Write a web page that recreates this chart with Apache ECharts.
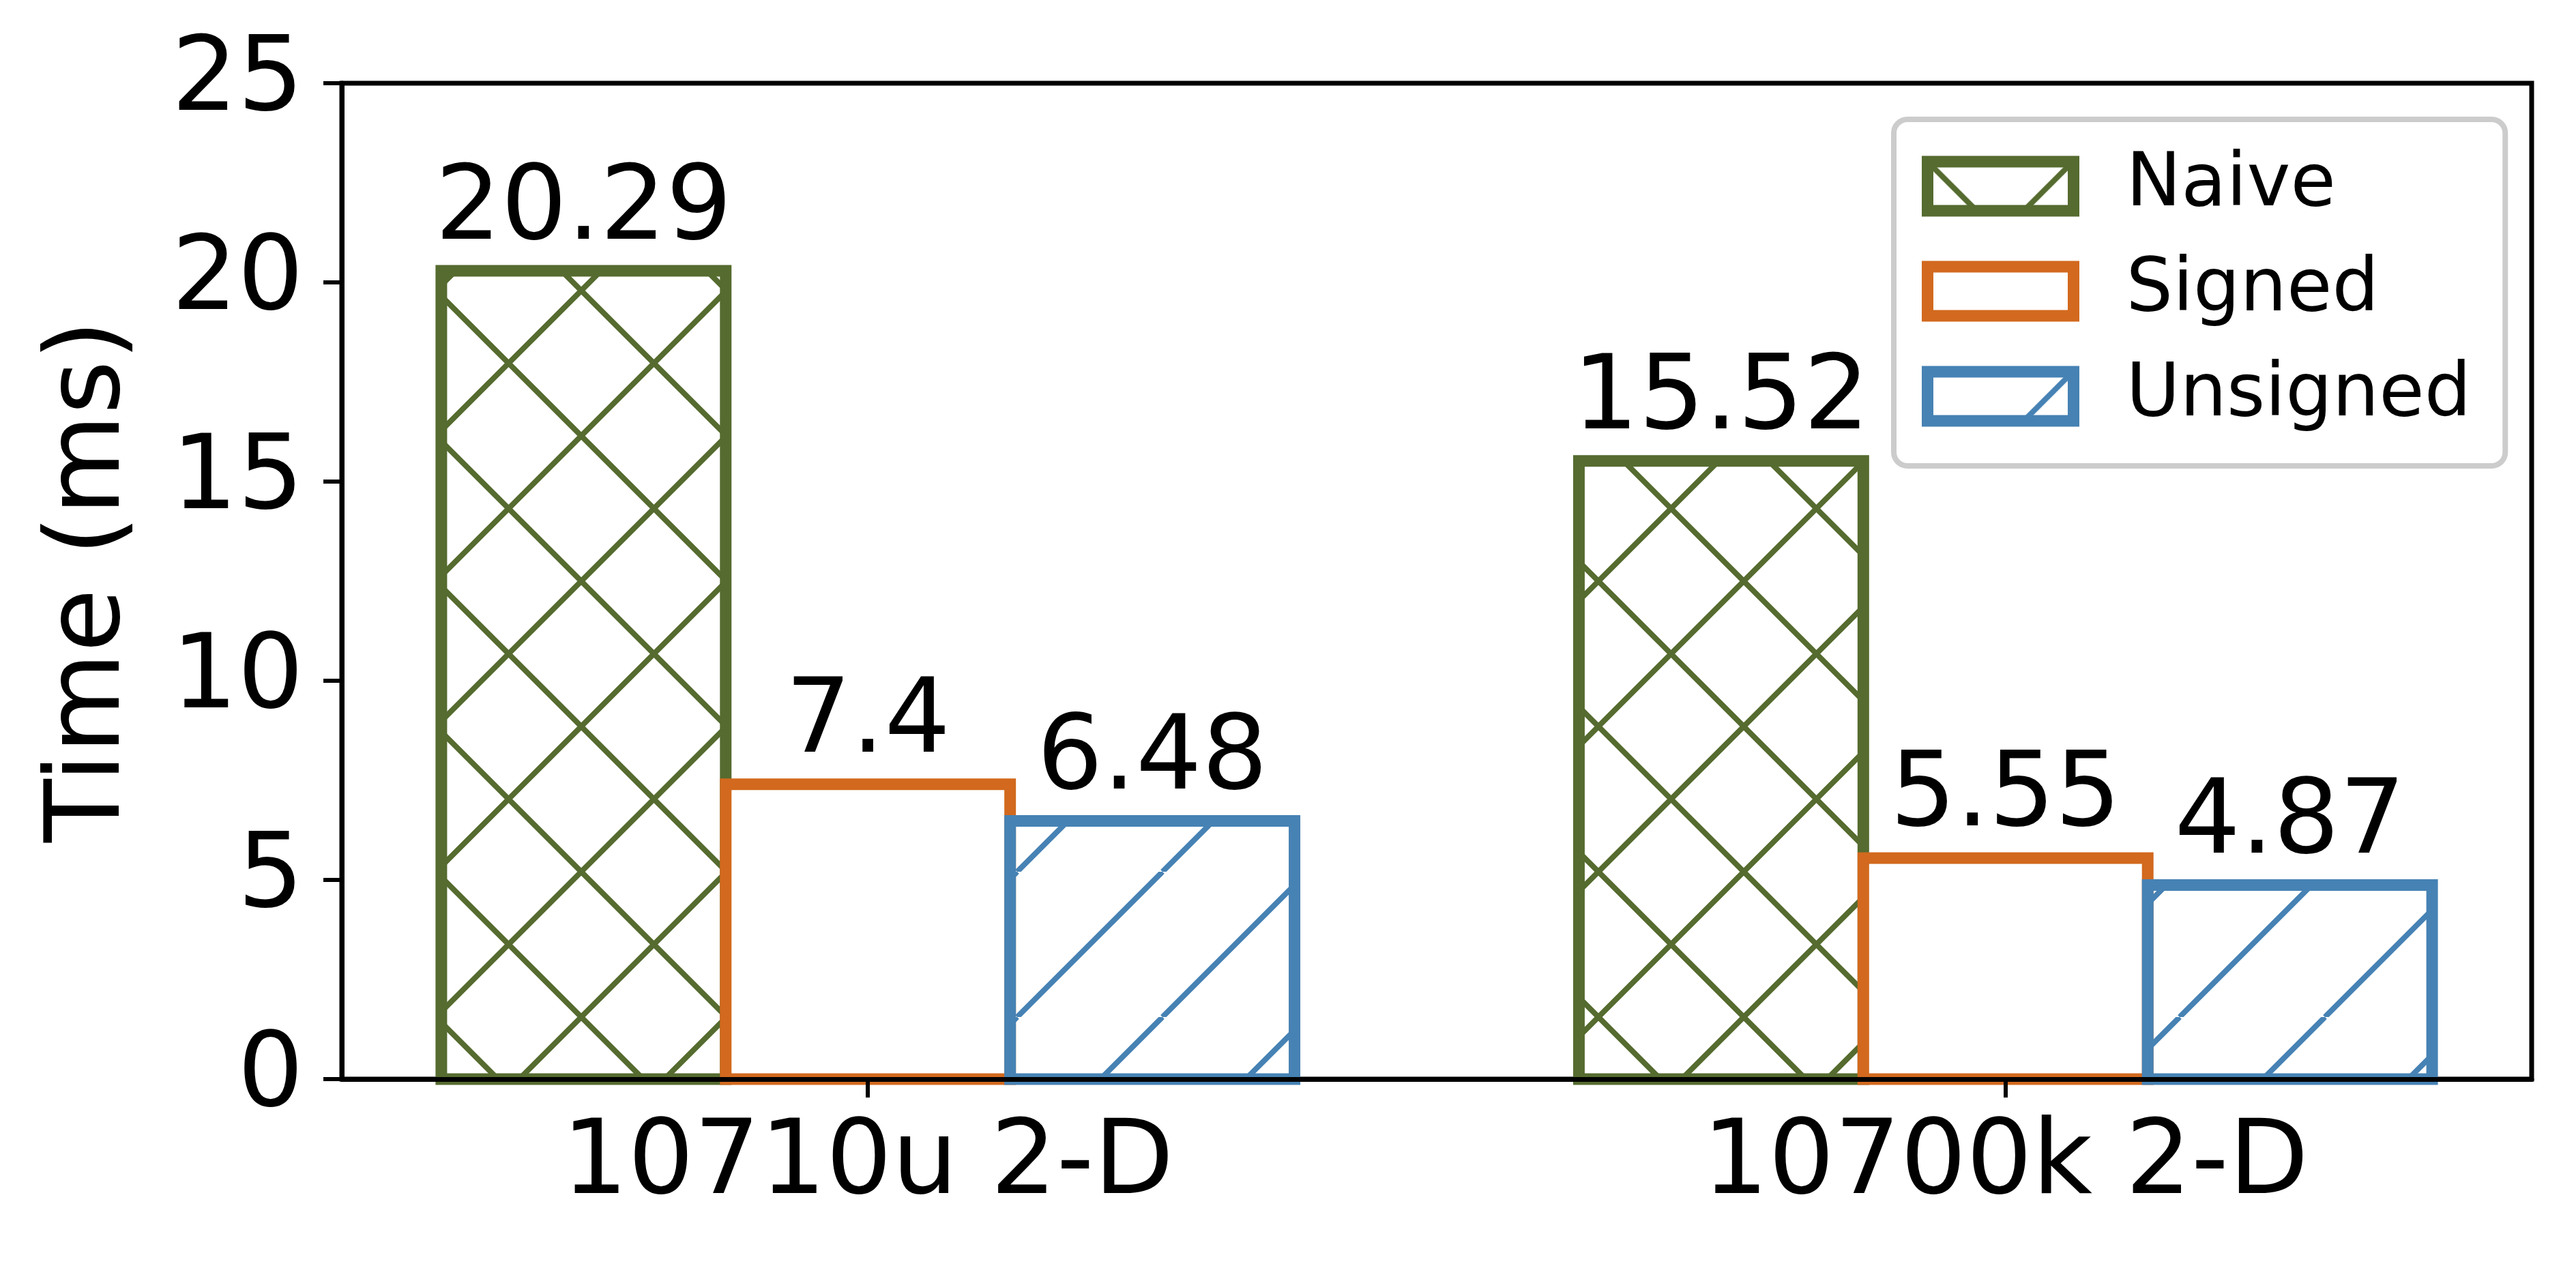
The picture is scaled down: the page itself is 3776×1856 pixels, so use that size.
<!DOCTYPE html>
<html>
<head>
<meta charset="utf-8">
<script src="https://cdn.jsdelivr.net/npm/echarts@6/dist/echarts.min.js"></script>
<style>
  html, body { margin: 0; padding: 0; background: #fff; }
  #main { width: 3776px; height: 1856px; }
</style>
</head>
<body>
<div id="main"></div>
<script>
const categories = ['10710u 2-D', '10700k 2-D'];
const seriesNames = ['Naive', 'Signed', 'Unsigned'];
const naive = [20.29, 15.52];
const signed = [7.4, 5.55];
const unsigned = [6.48, 4.87];
const yTicks = [0, 5, 10, 15, 20, 25];

const FONT = 'DejaVu Sans';
const GREEN = '#556b2f';
const ORANGE = '#d2691e';
const BLUE = '#4682b4';

// hatch tile, 45 degree lines, '/' or 'x'
function hatch(color, cross) {
  const s = 213;
  const c = document.createElement('canvas');
  c.width = s;
  c.height = s;
  const ctx = c.getContext('2d');
  ctx.strokeStyle = color;
  ctx.lineWidth = 8;
  for (const k of [-s, 0, s]) {
    ctx.beginPath();
    ctx.moveTo(k, s);
    ctx.lineTo(k + s, 0);
    ctx.stroke();
    if (cross) {
      ctx.beginPath();
      ctx.moveTo(k, 0);
      ctx.lineTo(k + s, s);
      ctx.stroke();
    }
  }
  return { image: c, repeat: 'repeat' };
}

const fills = [hatch(GREEN, true), '#fff', hatch(BLUE, false)];
const colors = [GREEN, ORANGE, BLUE];
const values = [naive, signed, unsigned];
const offsets = [-0.25, 0, 0.25];
const barW = 0.25;

const chartDom = document.getElementById('main');
const myChart = echarts.init(chartDom);

const series = values.map((vals, i) => ({
  name: seriesNames[i],
  type: 'custom',
  z: 2,
  clip: false,
  itemStyle: { color: fills[i], borderColor: colors[i], borderWidth: 17 },
  data: vals.map((v, j) => [j, v]),
  renderItem: (params, api) => {
    const x = api.value(0) + offsets[i];
    const v = api.value(1);
    const p0 = api.coord([x - barW / 2, v]);
    const p1 = api.coord([x + barW / 2, 0]);
    return {
      type: 'group',
      children: [
        {
          type: 'rect',
          shape: { x: p0[0], y: p0[1], width: p1[0] - p0[0], height: p1[1] - p0[1] },
          style: { fill: fills[i], stroke: colors[i], lineWidth: 17 }
        },
        {
          type: 'text',
          style: {
            text: String(v),
            x: (p0[0] + p1[0]) / 2,
            y: p0[1] - 11,
            textAlign: 'center',
            textVerticalAlign: 'bottom',
            font: '152px "' + FONT + '"',
            fill: '#000'
          }
        }
      ]
    };
  }
}));

const option = {
  animation: false,
  backgroundColor: '#fff',
  textStyle: { fontFamily: FONT },
  grid: {
    left: 501,
    right: 65,
    top: 122,
    bottom: 274,
    show: true,
    borderColor: '#000',
    borderWidth: 7,
    backgroundColor: 'transparent'
  },
  legend: {
    orient: 'vertical',
    left: 2776,
    top: 175,
    padding: [44, 50, 48, 41],
    itemWidth: 214,
    itemHeight: 72,
    itemGap: 46,
    selectedMode: false,
    backgroundColor: '#fff',
    borderColor: '#cccccc',
    borderWidth: 8,
    borderRadius: 20,
    icon: 'rect',
    textStyle: { fontFamily: FONT, fontSize: 108, color: '#000', padding: [0, 0, 0, 72] },
    data: seriesNames.map((n, i) => ({
      name: n,
      itemStyle: { color: fills[i], borderColor: colors[i], borderWidth: 17 }
    }))
  },
  xAxis: {
    type: 'value',
    min: -0.4625,
    max: 1.4625,
    z: 5,
    axisLine: { show: true, onZero: false, lineStyle: { color: '#000', width: 7 } },
    axisTick: { show: true, customValues: [0, 1], length: 27, lineStyle: { color: '#000', width: 6 } },
    axisLabel: {
      customValues: [0, 1],
      formatter: (v) => categories[Math.round(v)],
      fontSize: 152,
      fontFamily: FONT,
      color: '#000',
      margin: 52
    },
    splitLine: { show: false }
  },
  yAxis: {
    type: 'value',
    min: yTicks[0],
    max: yTicks[yTicks.length - 1],
    interval: 5,
    z: 5,
    name: 'Time (ms)',
    nameLocation: 'middle',
    nameGap: 290,
    nameTextStyle: { fontSize: 152, fontFamily: FONT, color: '#000' },
    axisLine: { show: true, onZero: false, lineStyle: { color: '#000', width: 7 } },
    axisTick: { show: true, length: 27, lineStyle: { color: '#000', width: 6 } },
    axisLabel: { fontSize: 152, fontFamily: FONT, color: '#000', margin: 56 },
    splitLine: { show: false }
  },
  series: series
};

option && myChart.setOption(option);
</script>
</body>
</html>
